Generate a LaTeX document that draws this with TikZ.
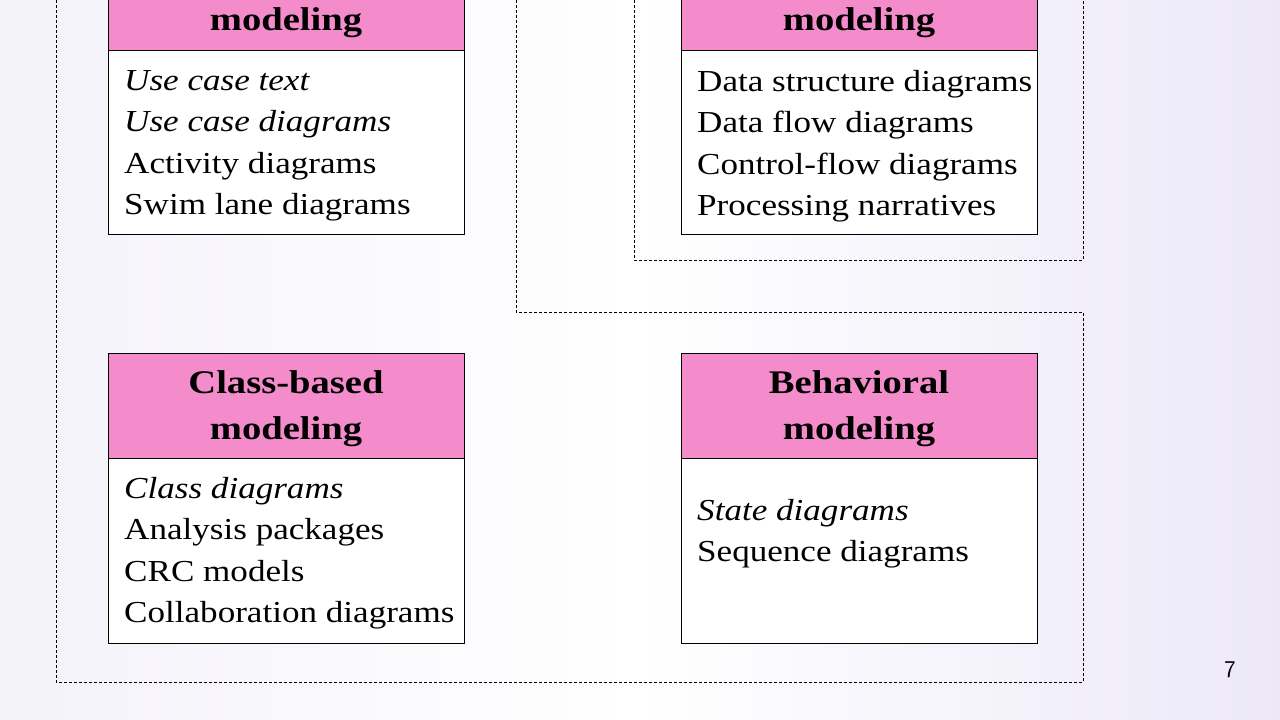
\documentclass[tikz,border=0pt]{standalone}
\usepackage{fontspec}
\setmainfont{Liberation Serif}
\definecolor{hpink}{HTML}{F48CCC}
\definecolor{bgl}{HTML}{F4F2FA}
\definecolor{bgr}{HTML}{ECE8F8}
\begin{document}
\begin{tikzpicture}[x=1pt,y=-1pt,
  hdr/.style={draw=black,fill=hpink,line width=0.8pt},
  bodybox/.style={draw=black,fill=white,line width=0.8pt},
  htext/.style={font=\fontsize{33}{46}\selectfont\bfseries,align=center,xscale=1.17},
  btext/.style={font=\fontsize{30.5}{41.5}\selectfont,align=left,anchor=north west,inner sep=0pt,xscale=1.15},
  frame/.style={line width=0.7pt,dash pattern=on 3pt off 2pt}]
\shade[left color=bgl,right color=bgr,middle color=white] (0,0) rectangle (1280,720);
\useasboundingbox (0,0) rectangle (1280,720);
\draw[frame] (56,0) -- (56,682) -- (1083,682) -- (1083,312) -- (516,312) -- (516,0);
\draw[frame] (634,0) -- (634,260) -- (1083,260) -- (1083,0);
\draw[hdr] (108,-5) rectangle (464,50);
\node[htext] (h1) at (286,23) {modeling};
\draw[bodybox] (108,50) rectangle (464,234);
\node[btext] (b1) at (124,70) {\itshape Use case text\\\itshape Use case diagrams\\Activity diagrams\\Swim lane diagrams};
\draw[hdr] (681,-5) rectangle (1037,50);
\node[htext] (h2) at (859,23) {modeling};
\draw[bodybox] (681,50) rectangle (1037,234);
\node[btext] (b2) at (697,70) {Data structure diagrams\\Data flow diagrams\\Control-flow diagrams\\Processing narratives};
\draw[hdr] (108,353) rectangle (464,458);
\node[htext] (h3) at (286,409) {Class-based\\modeling};
\draw[bodybox] (108,458) rectangle (464,643);
\node[btext] (b3) at (124,477) {\itshape Class diagrams\\Analysis packages\\CRC models\\Collaboration diagrams};
\draw[hdr] (681,353) rectangle (1037,458);
\node[htext] (h4) at (859,409) {Behavioral\\modeling};
\draw[bodybox] (681,458) rectangle (1037,643);
\node[btext] (b4) at (697,499) {\itshape State diagrams\\Sequence diagrams};
\node[font=\fontsize{24}{28}\selectfont\sffamily] (pg) at (1230,670) {7};
\end{tikzpicture}
\end{document}
